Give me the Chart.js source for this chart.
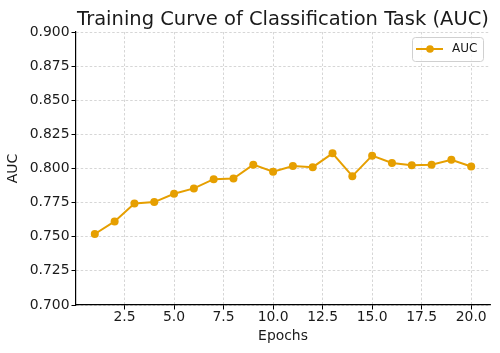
<!DOCTYPE html>
<html>
<head>
<meta charset="utf-8">
<script src="https://cdn.jsdelivr.net/npm/chart.js@4"></script>
<style>
  html, body { margin: 0; padding: 0; background: #fff; }
  #wrap { width: 500px; height: 353px; }
</style>
</head>
<body>
<div id="wrap"><canvas id="chart"></canvas></div>
<script>
  const epochs = [1, 2, 3, 4, 5, 6, 7, 8, 9, 10, 11, 12, 13, 14, 15, 16, 17, 18, 19, 20];
  const auc = [0.752, 0.7612, 0.7744, 0.7754, 0.7815, 0.7854, 0.7922, 0.7927, 0.8028, 0.7977,
               0.8018, 0.8010, 0.8111, 0.7944, 0.8094, 0.8040, 0.8023, 0.8028, 0.8064, 0.8015];
  const xTicks = [2.5, 5.0, 7.5, 10.0, 12.5, 15.0, 17.5, 20.0];
  const yTicks = [0.700, 0.725, 0.750, 0.775, 0.800, 0.825, 0.850, 0.875, 0.900];
  const titleText = "Training Curve of Classification Task (AUC)";
  const seriesLabel = "AUC";

  const ORANGE = "#e69f00";
  const INK = "#1a1a1a";
  const FONT = "'DejaVu Sans', sans-serif";

  /* title centred over the plot area + framed legend inside it, like matplotlib */
  const decor = {
    id: "decor",
    afterDraw(chart) {
      const ctx = chart.ctx;
      const a = chart.chartArea;
      ctx.save();
      ctx.fillStyle = INK;
      ctx.font = "19.5px " + FONT;
      ctx.textAlign = "center";
      ctx.textBaseline = "alphabetic";
      ctx.fillText(titleText, (a.left + a.right) / 2, 25);

      // legend frame
      const bx = a.right - 78, by = a.top + 5, bw = 71, bh = 24;
      ctx.beginPath();
      ctx.roundRect(bx + 0.5, by + 0.5, bw, bh, 3);
      ctx.fillStyle = "rgba(255,255,255,0.8)";
      ctx.fill();
      ctx.strokeStyle = "#d0d0d0";
      ctx.lineWidth = 1;
      ctx.stroke();

      const ly = by + bh / 2;
      ctx.beginPath();
      ctx.moveTo(bx + 4, ly);
      ctx.lineTo(bx + 31, ly);
      ctx.strokeStyle = ORANGE;
      ctx.lineWidth = 2;
      ctx.stroke();
      ctx.beginPath();
      ctx.arc(bx + 18, ly, 3.8, 0, Math.PI * 2);
      ctx.fillStyle = ORANGE;
      ctx.fill();

      ctx.fillStyle = INK;
      ctx.font = "12px " + FONT;
      ctx.textAlign = "left";
      ctx.textBaseline = "middle";
      ctx.fillText(seriesLabel, bx + 40, ly);
      ctx.restore();
    }
  };

  const gridOpts = { color: "#cccccc", lineWidth: 0.8, tickColor: "#000", tickLength: 4.5, tickWidth: 1 };
  const borderOpts = { display: true, color: "#000", width: 1.2, dash: [2.5, 2] };

  new Chart(document.getElementById("chart"), {
    type: "line",
    data: {
      datasets: [{
        label: seriesLabel,
        data: epochs.map(function (e, i) { return { x: e, y: auc[i] }; }),
        borderColor: ORANGE,
        backgroundColor: ORANGE,
        borderWidth: 2,
        pointRadius: 4,
        pointHoverRadius: 4,
        pointBorderWidth: 0,
        tension: 0
      }]
    },
    options: {
      responsive: true,
      maintainAspectRatio: false,
      animation: false,
      layout: { padding: { top: 32, right: 10, left: 0, bottom: 0 } },
      plugins: {
        legend: { display: false },
        title: { display: false },
        tooltip: { enabled: false }
      },
      scales: {
        x: {
          type: "linear",
          min: 0.05, max: 20.95,
          afterBuildTicks: function (s) { s.ticks = xTicks.map(function (v) { return { value: v }; }); },
          afterFit: function (s) { s.height = 48; },
          ticks: {
            color: INK, font: { family: FONT, size: 13.9 }, padding: 0,
            callback: function (v) { return v.toFixed(1); }
          },
          grid: gridOpts,
          border: borderOpts,
          title: { display: true, text: "Epochs", color: INK, font: { family: FONT, size: 13.9 }, padding: { top: 0, bottom: 8 } }
        },
        y: {
          min: 0.7, max: 0.9,
          afterBuildTicks: function (s) { s.ticks = yTicks.map(function (v) { return { value: v }; }); },
          afterFit: function (s) { s.width = 76; },
          ticks: {
            color: INK, font: { family: FONT, size: 13.9 }, padding: 2,
            callback: function (v) { return v.toFixed(3); }
          },
          grid: gridOpts,
          border: borderOpts,
          title: { display: true, text: "AUC", color: INK, font: { family: FONT, size: 13.9 }, padding: { top: 5, bottom: 0 } }
        }
      }
    },
    plugins: [decor]
  });
</script>
</body>
</html>
